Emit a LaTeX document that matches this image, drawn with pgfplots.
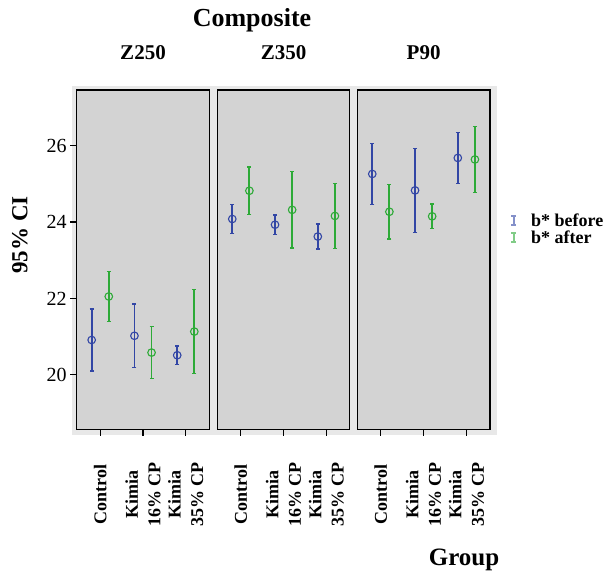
\documentclass[border=0pt]{standalone}
\usepackage{pgfplots}
\pgfplotsset{compat=1.18}
\usepackage{pgfplotstable}
\usepackage{fontspec}
\setmainfont{Liberation Serif}
\definecolor{bgout}{RGB}{232,232,232}
\definecolor{panelbg}{RGB}{211,211,211}
\definecolor{cblue}{RGB}{50,70,165}
\definecolor{cgreen}{RGB}{45,170,55}

\pgfplotstableread{
x y e
-0.2 20.91 0.81
0.8 21.02 0.83
1.8 20.51 0.24
}\zaB
\pgfplotstableread{
x y e
0.2 22.05 0.66
1.2 20.58 0.68
2.2 21.13 1.10
}\zaA
\pgfplotstableread{
x y e
-0.2 24.08 0.38
0.8 23.93 0.26
1.8 23.62 0.33
}\zbB
\pgfplotstableread{
x y e
0.2 24.82 0.62
1.2 24.32 1.00
2.2 24.16 0.85
}\zbA
\pgfplotstableread{
x y e
-0.2 25.26 0.80
0.8 24.83 1.10
1.8 25.68 0.67
}\pB
\pgfplotstableread{
x y e
0.2 24.27 0.72
1.2 24.15 0.32
2.2 25.64 0.86
}\pA

\pgfplotsset{
  panel/.style={
    scale only axis, width=132.6pt, height=339.3pt, anchor=south west,
    xmin=-0.55, xmax=2.55, ymin=18.57, ymax=27.46,
    axis background/.style={fill=panelbg},
    axis line style={black, line width=1.2pt},
    tick align=outside, major tick length=6.5pt,
    tick style={black, line width=1.2pt},
    xtick={0,1,2},
    xticklabels={Control, Kimia\\16\% CP, Kimia\\35\% CP},
    xticklabel style={yshift=-58.5pt, rotate=90, anchor=center, align=center,
      font=\bfseries\fontsize{18}{22.5}\selectfont},
    title style={at={(0.5,1)}, anchor=center, yshift=31pt,
      font=\bfseries\fontsize{21}{21}\selectfont},
    /pgf/number format/assume math mode=true,
    yticklabel style={font=\fontsize{20}{20}\selectfont},
    ytick pos=left, xtick pos=bottom,
  },
  bef/.style={only marks, mark=o, mark size=3.8pt, color=cblue, line width=1.1pt,
    legend image code/.code={
      \draw[cblue!60, line width=2.2pt] (3pt,-4.5pt) -- (3pt,4.5pt);
      \draw[cblue!60, line width=1.5pt] (0.3pt,-4.5pt) -- (5.7pt,-4.5pt) (0.3pt,4.5pt) -- (5.7pt,4.5pt);},
    error bars/.cd, y dir=both, y explicit, error mark=|,
    error bar style={line width=1.7pt, color=cblue, solid},
    error mark options={mark size=2pt, line width=1.5pt, color=cblue}},
  aft/.style={only marks, mark=o, mark size=3.8pt, color=cgreen, line width=1.1pt,
    legend image code/.code={
      \draw[cgreen!60, line width=2.2pt] (3pt,-4.5pt) -- (3pt,4.5pt);
      \draw[cgreen!60, line width=1.5pt] (0.3pt,-4.5pt) -- (5.7pt,-4.5pt) (0.3pt,4.5pt) -- (5.7pt,4.5pt);},
    error bars/.cd, y dir=both, y explicit, error mark=|,
    error bar style={line width=1.8pt, color=cgreen, solid},
    error mark options={mark size=2pt, line width=1.5pt, color=cgreen}},
}

\begin{document}
\begin{tikzpicture}[x=1pt,y=1pt]
\useasboundingbox (0,0) rectangle (606,573);
\fill[bgout] (71.7,138) rectangle (496.7,487);

\begin{axis}[panel, at={(76.7pt,143.7pt)}, title={Z250}, ytick={20,22,24,26}]
\addplot[bef] table[x=x,y=y,y error=e]{\zaB};
\addplot[aft] table[x=x,y=y,y error=e]{\zaA};
\end{axis}

\begin{axis}[panel, at={(217.3pt,143.7pt)}, title={Z350}, ytick=\empty]
\addplot[bef] table[x=x,y=y,y error=e]{\zbB};
\addplot[aft] table[x=x,y=y,y error=e]{\zbA};
\end{axis}

\begin{axis}[panel, at={(357.3pt,143.7pt)}, title={P90}, ytick=\empty,
  legend style={at={(1.13,0.59)}, anchor=west, draw=none, fill=none,
    font=\bfseries\fontsize{18}{18}\selectfont, row sep=-1pt,
    /tikz/column 1/.style={column sep=12pt}},
  legend cell align=left]
\addplot[bef] table[x=x,y=y,y error=e]{\pB};
\addlegendentry{b* before}
\addplot[aft] table[x=x,y=y,y error=e]{\pA};
\addlegendentry{b* after}
\end{axis}

\node[font=\bfseries\fontsize{26}{26}\selectfont] at (252,553) {Composite};
\node[font=\bfseries\fontsize{23}{23}\selectfont, rotate=90] at (20,338) {95\% CI};
\node[font=\bfseries\fontsize{25}{25}\selectfont] at (464,13) {Group};
\end{tikzpicture}
\end{document}
